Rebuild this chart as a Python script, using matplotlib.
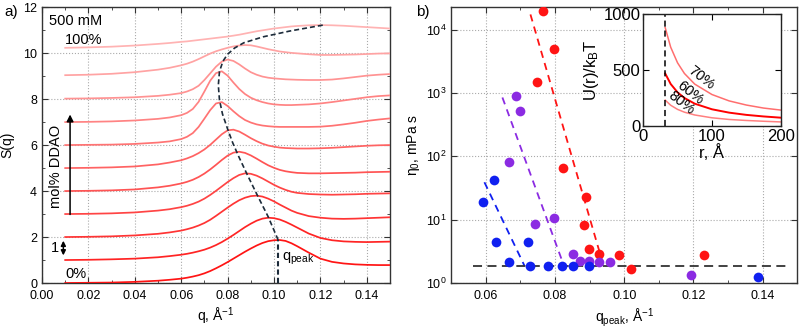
import numpy as np
import matplotlib
matplotlib.use("Agg")
import matplotlib.pyplot as plt
from matplotlib.ticker import MultipleLocator, LogLocator, NullLocator, FormatStrFormatter

plt.rcParams['font.family'] = ['Liberation Sans', 'DejaVu Sans']
plt.rcParams['mathtext.fontset'] = 'custom'
plt.rcParams['mathtext.rm'] = 'Liberation Sans'
plt.rcParams['mathtext.it'] = 'Liberation Sans:italic'

# ---- panel a: S(q) curves, offset by 1 for each 10 mol% DDAO ----
q = [0.01, 0.02, 0.03, 0.04, 0.05, 0.055, 0.06, 0.0625, 0.065, 0.0675, 0.07, 0.0725,
     0.075, 0.0775, 0.08, 0.0825, 0.085, 0.0875, 0.09, 0.0925, 0.095, 0.0975, 0.10,
     0.1025, 0.105, 0.1075, 0.11, 0.115, 0.12, 0.125, 0.13, 0.135, 0.14, 0.145, 0.15]

s_0 = [0.00, 0.01, 0.02, 0.05, 0.10, 0.14, 0.19, 0.23, 0.28, 0.34, 0.42, 0.52, 0.64, 0.77,
       0.91, 1.06, 1.21, 1.36, 1.50, 1.63, 1.74, 1.82, 1.86, 1.87, 1.83, 1.73, 1.60, 1.32,
       1.06, 0.92, 0.85, 0.81, 0.79, 0.78, 0.78]
s_10 = [1.00, 1.01, 1.03, 1.06, 1.12, 1.17, 1.23, 1.27, 1.32, 1.38, 1.45, 1.54, 1.65, 1.78,
        1.93, 2.09, 2.26, 2.43, 2.58, 2.71, 2.80, 2.84, 2.82, 2.76, 2.66, 2.54, 2.41, 2.15,
        1.96, 1.86, 1.81, 1.79, 1.78, 1.79, 1.80]
s_20 = [2.00, 2.01, 2.03, 2.07, 2.14, 2.20, 2.28, 2.34, 2.41, 2.50, 2.61, 2.75, 2.92, 3.10,
        3.28, 3.45, 3.60, 3.71, 3.78, 3.80, 3.76, 3.67, 3.55, 3.41, 3.28, 3.15, 3.05, 2.91,
        2.84, 2.80, 2.79, 2.80, 2.82, 2.84, 2.86]
s_30 = [3.00, 3.01, 3.03, 3.07, 3.15, 3.21, 3.30, 3.36, 3.44, 3.54, 3.67, 3.83, 4.01, 4.20,
        4.39, 4.56, 4.70, 4.77, 4.75, 4.67, 4.55, 4.41, 4.27, 4.15, 4.05, 3.97, 3.92, 3.87,
        3.85, 3.84, 3.85, 3.86, 3.88, 3.89, 3.90]
s_40 = [4.00, 4.01, 4.03, 4.07, 4.16, 4.23, 4.33, 4.40, 4.49, 4.61, 4.76, 4.94, 5.14, 5.35,
        5.54, 5.67, 5.71, 5.66, 5.55, 5.41, 5.26, 5.12, 5.01, 4.92, 4.86, 4.82, 4.79, 4.77,
        4.77, 4.78, 4.79, 4.80, 4.82, 4.83, 4.84]
s_50 = [5.00, 5.01, 5.03, 5.07, 5.16, 5.24, 5.34, 5.42, 5.52, 5.65, 5.81, 6.01, 6.24, 6.47,
        6.64, 6.67, 6.59, 6.45, 6.30, 6.17, 6.06, 5.98, 5.93, 5.89, 5.87, 5.86, 5.85, 5.85,
        5.86, 5.88, 5.91, 5.94, 5.97, 5.99, 6.00]
s_60 = [6.00, 6.01, 6.02, 6.05, 6.11, 6.16, 6.26, 6.36, 6.52, 6.79, 7.15, 7.52, 7.81, 7.87,
        7.70, 7.47, 7.26, 7.09, 6.98, 6.90, 6.85, 6.82, 6.80, 6.79, 6.79, 6.79, 6.79, 6.79,
        6.80, 6.84, 6.90, 6.97, 7.05, 7.11, 7.16]
s_70 = [7.00, 7.01, 7.03, 7.07, 7.14, 7.20, 7.30, 7.40, 7.57, 7.88, 8.33, 8.80, 9.13, 9.21,
        9.02, 8.72, 8.44, 8.22, 8.06, 7.95, 7.87, 7.81, 7.77, 7.75, 7.74, 7.74, 7.75, 7.77,
        7.81, 7.87, 7.94, 8.01, 8.08, 8.13, 8.16]
s_80 = [8.02, 8.03, 8.05, 8.08, 8.14, 8.19, 8.26, 8.33, 8.43, 8.58, 8.83, 9.12, 9.41, 9.63,
        9.72, 9.66, 9.51, 9.33, 9.17, 9.06, 8.98, 8.93, 8.90, 8.88, 8.86, 8.85, 8.84, 8.83,
        8.83, 8.85, 8.90, 8.96, 9.02, 9.06, 9.09]
s_90 = [9.04, 9.06, 9.10, 9.17, 9.28, 9.36, 9.47, 9.54, 9.63, 9.74, 9.86, 9.98, 10.08, 10.16,
        10.23, 10.29, 10.33, 10.35, 10.34, 10.29, 10.23, 10.17, 10.12, 10.07, 10.04, 10.01,
        9.99, 9.95, 9.92, 9.92, 9.93, 9.94, 9.96, 9.98, 9.99]
s_100 = [10.23, 10.25, 10.28, 10.33, 10.40, 10.44, 10.49, 10.51, 10.54, 10.57, 10.60, 10.63,
         10.66, 10.69, 10.72, 10.76, 10.80, 10.85, 10.90, 10.95, 10.99, 11.03, 11.07, 11.10,
         11.13, 11.16, 11.18, 11.21, 11.22, 11.21, 11.19, 11.16, 11.13, 11.10, 11.07]
curves = [s_0, s_10, s_20, s_30, s_40, s_50, s_60, s_70, s_80, s_90, s_100]

# peak position trace
q_trace = [0.1018, 0.0975, 0.0928, 0.0882, 0.0848, 0.0822, 0.0800, 0.0778, 0.0765, 0.0760,
           0.0765, 0.0780, 0.0800, 0.0830, 0.0870, 0.0954, 0.1068, 0.1212]
s_trace = [1.87, 2.88, 3.82, 4.77, 5.50, 6.10, 6.70, 7.35, 7.96, 8.60, 9.20, 9.65, 9.95,
           10.22, 10.45, 10.71, 10.96, 11.22]
q_peak0 = 0.1018
s_peak0 = 1.87

# ---- panel b: viscosity vs q_peak ----
q_red = [0.0765, 0.0797, 0.0748, 0.0822, 0.0891, 0.0884, 0.0898, 0.0926, 0.0985, 0.1021, 0.1232]
eta_red = [19600, 5000, 1480, 65, 23, 8.2, 3.5, 2.85, 2.8, 1.65, 2.74]
q_purple = [0.0686, 0.0699, 0.0666, 0.0742, 0.0797, 0.0852, 0.0871, 0.0898, 0.0926, 0.0960, 0.1193]
eta_purple = [910, 519, 80, 8.4, 10.6, 2.85, 2.26, 2.2, 2.15, 2.15, 1.36]
q_blue = [0.0593, 0.0625, 0.0629, 0.0666, 0.0722, 0.0729, 0.0781, 0.0819, 0.0852, 0.0898, 0.1386]
eta_blue = [18.8, 43, 4.5, 2.15, 4.5, 1.86, 1.86, 1.86, 1.86, 1.86, 1.26]

fit_red_q = [0.0729, 0.0940]
fit_red_eta = [17400, 1.9]
fit_purple_q = [0.0648, 0.0822]
fit_purple_eta = [850, 2.14]
fit_blue_q = [0.0596, 0.0712]
fit_blue_eta = [39, 1.86]
base_q = [0.0562, 0.1467]
base_eta = [1.86, 1.86]

# ---- inset: U(r)/kBT ----
r = [32, 40, 50, 60, 75, 100, 125, 150, 175, 200]
u_70 = [880, 705, 565, 470, 375, 282, 225, 188, 161, 143]
u_60 = [470, 376, 301, 251, 200, 150, 120, 100, 86, 75]
u_80 = [232, 186, 149, 124, 99, 74, 59, 50, 43, 37]
r_contact = 32

red = '#ff1414'
purple = '#8b2be2'
blue = '#1020f0'
grid_kw = dict(color='#aaaaaa', linestyle=':', linewidth=0.8)


def style(ax):
    for sp in ax.spines.values():
        sp.set_color('#333333')
        sp.set_linewidth(1.0)
    ax.tick_params(which='both', direction='in', top=True, right=True, colors='#333333',
                   labelcolor='black', labelsize=9)
    ax.tick_params(which='major', length=4)
    ax.tick_params(which='minor', length=2.5)
    ax.tick_params(axis='x', which='major', pad=5)


fig = plt.figure(figsize=(8, 3.3), dpi=100)

# panel a
ax1 = fig.add_axes([0.0525, 0.1424, 0.435, 0.836])
for i, s in enumerate(curves):
    t = i / 10.0
    col = (1.0, 0.08 + 0.62 * t, 0.08 + 0.62 * t)
    ax1.plot(q, s, color=col, lw=1.25, zorder=3)
ax1.plot(q_trace, s_trace, color='#1c2b3a', lw=1.2, ls=(0, (3, 1.8)), zorder=4)
ax1.plot([q_peak0, q_peak0], [0, s_peak0], color='#1c2b3a', lw=1.5, ls=(0, (2.5, 1.5)), zorder=4)
ax1.set_xlim(0, 0.15)
ax1.set_ylim(0, 12)
ax1.xaxis.set_major_locator(MultipleLocator(0.02))
ax1.xaxis.set_minor_locator(MultipleLocator(0.01))
ax1.yaxis.set_major_locator(MultipleLocator(2))
ax1.yaxis.set_minor_locator(MultipleLocator(1))
ax1.xaxis.set_major_formatter(FormatStrFormatter('%.2f'))
ax1.grid(True, which='major', **grid_kw)
style(ax1)
ax1.set_xlabel('q, Å$^{-1}$', fontsize=10, labelpad=3)
ax1.set_ylabel('S(q)', fontsize=10, labelpad=6)

ax1.text(0.003, 11.4, '500 mM', fontsize=10.5, va='center', ha='left')
ax1.text(0.0099, 10.55, '100%', fontsize=10.5, va='center', ha='left')
ax1.text(0.0099, 0.4, '0%', fontsize=10.5, va='center', ha='left')
ax1.text(0.1033, 1.05, 'q$_{\\mathrm{peak}}$', fontsize=10.5, va='center', ha='left')
ax1.annotate('', xy=(0.0121, 7.45), xytext=(0.0121, 2.86),
             arrowprops=dict(arrowstyle='-|>', color='black', lw=1.1, mutation_scale=10))
ax1.text(0.0062, 5.05, 'mol% DDAO', rotation=90, fontsize=10.5, va='center', ha='center')
ax1.annotate('', xy=(0.0092, 1.96), xytext=(0.0092, 1.08),
             arrowprops=dict(arrowstyle='<|-|>', color='black', lw=1.1, mutation_scale=7))
ax1.text(0.0054, 1.52, '1', fontsize=10.5, va='center', ha='center')

# panel b
ax2 = fig.add_axes([0.564, 0.1424, 0.4325, 0.836])
ax2.set_yscale('log')
ax2.plot(fit_red_q, fit_red_eta, color=red, lw=1.3, ls=(0, (4, 3)), zorder=2)
ax2.plot(fit_purple_q, fit_purple_eta, color=purple, lw=1.3, ls=(0, (4, 3)), zorder=2)
ax2.plot(fit_blue_q, fit_blue_eta, color=blue, lw=1.3, ls=(0, (4, 3)), zorder=2)
ax2.plot(base_q, base_eta, color='#333333', lw=1.3, ls=(0, (5, 3)), zorder=2)
ax2.plot(q_red, eta_red, 'o', color=red, ms=7, mec='none', zorder=3)
ax2.plot(q_purple, eta_purple, 'o', color=purple, ms=7, mec='none', zorder=3)
ax2.plot(q_blue, eta_blue, 'o', color=blue, ms=7, mec='none', zorder=3)
ax2.set_xlim(0.05, 0.15)
ax2.set_ylim(1, 2.27e4)
ax2.xaxis.set_major_locator(MultipleLocator(0.02))
ax2.xaxis.set_minor_locator(MultipleLocator(0.01))
ax2.xaxis.set_major_formatter(FormatStrFormatter('%.2f'))
ax2.yaxis.set_major_locator(LogLocator(base=10, numticks=10))
ax2.yaxis.set_minor_locator(NullLocator())
ax2.grid(True, which='major', **grid_kw)
style(ax2)
ax2.set_xlabel('q$_{\\mathrm{peak}}$, Å$^{-1}$', fontsize=10, labelpad=3)
ax2.set_ylabel('η$_0$, mPa s', fontsize=10, labelpad=3)

# inset
ax3 = fig.add_axes([0.804, 0.618, 0.1718, 0.339])
ax3.plot(r, u_70, color='#ff6e6e', lw=1.1)
ax3.plot(r, u_60, color='#ff0000', lw=1.4)
ax3.plot(r, u_80, color='#ff8080', lw=1.1)
ax3.axvline(r_contact, color='black', lw=1.1, ls=(0, (4, 2.5)))
ax3.set_xlim(0, 200)
ax3.set_ylim(0, 1000)
ax3.xaxis.set_major_locator(MultipleLocator(100))
ax3.yaxis.set_major_locator(MultipleLocator(500))
for sp in ax3.spines.values():
    sp.set_color('#222222')
    sp.set_linewidth(1.0)
ax3.tick_params(direction='in', top=True, right=True, labelsize=12, length=4, pad=2)
ax3.set_xlabel('r, Å', fontsize=12, labelpad=0)
ax3.set_ylabel('U(r)/k$_\\mathrm{B}$T', fontsize=12, labelpad=2)
ax3.text(84, 430, '70%', rotation=-38, fontsize=10.5, ha='center', va='center')
ax3.text(69, 300, '60%', rotation=-38, fontsize=10.5, ha='center', va='center')
ax3.text(55, 205, '80%', rotation=-38, fontsize=10.5, ha='center', va='center')

fig.text(0.006, 0.965, 'a)', fontsize=11, va='center', ha='left')
fig.text(0.52, 0.965, 'b)', fontsize=11, va='center', ha='left')

fig.savefig('out.png', dpi=100)
